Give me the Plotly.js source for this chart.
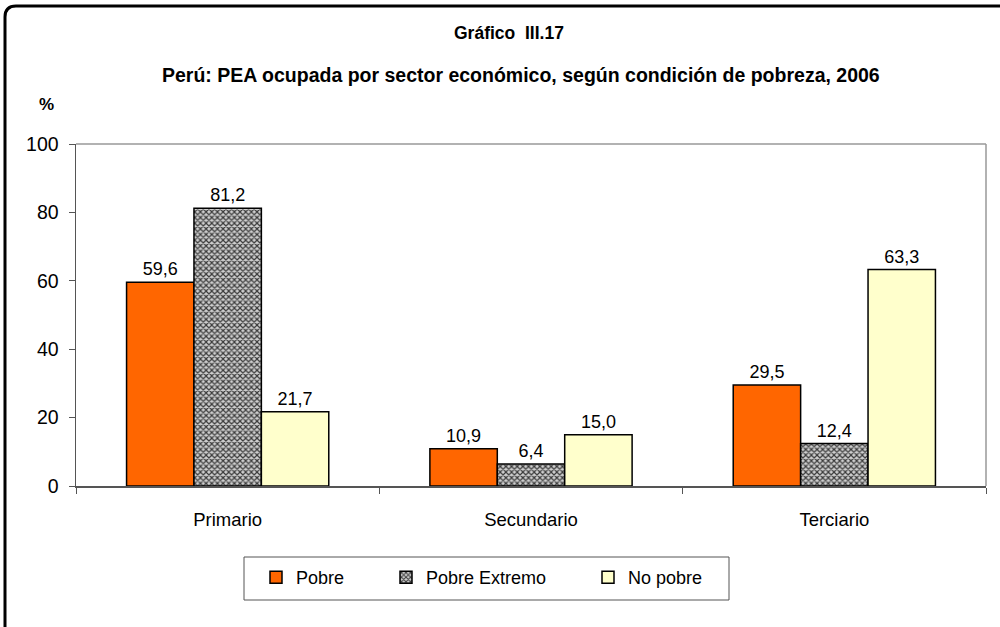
<!DOCTYPE html>
<html>
<head>
<meta charset="utf-8">
<script src="https://cdn.plot.ly/plotly-3.0.1.min.js"></script>
<style>
html,body{margin:0;padding:0;background:#fff;overflow:hidden;}
#chart{width:1000px;height:627px;}
</style>
</head>
<body>
<div id="chart"></div>
<script>
const categories = ["Primario", "Secundario", "Terciario"];
const seriesNames = ["Pobre", "Pobre Extremo", "No pobre"];
const pobre = [59.6, 10.9, 29.5];
const pobreExtremo = [81.2, 6.4, 12.4];
const noPobre = [21.7, 15.0, 63.3];
const yTicks = [0, 20, 40, 60, 80, 100];

const font = "Liberation Sans, Arial, sans-serif";

const L = 76, R = 14, T = 144, B = 141, W = 1000 - L - R, H = 627 - T - B;
function px(x) { return (x - L) / W; }
function py(y) { return (627 - B - y) / H; }

function bar(name, vals, marker, legendId) {
  return {
    type: "bar", name: name, x: categories, y: vals,
    marker: marker, legend: legendId,
    texttemplate: "%{y:.1f}", textposition: "outside",
    textfont: {family: font, size: 18, color: "#000"},
    cliponaxis: false, hoverinfo: "skip"
  };
}

const data = [
  bar(seriesNames[0], pobre, {color: "#FF6600", line: {color: "#000", width: 1.5}}, "legend"),
  bar(seriesNames[1], pobreExtremo, {color: "#8a8a8a", line: {color: "#000", width: 1.5},
    pattern: {shape: "x", fgcolor: "#3a3a3a", bgcolor: "#cfcfcf", size: 4, solidity: 0.5}}, "legend2"),
  bar(seriesNames[2], noPobre, {color: "#FFFFCC", line: {color: "#000", width: 1.5}}, "legend3")
];

const x0 = px(5), x1 = px(1010), y0 = py(6), y1 = py(640);
const rx = 11 / W, ry = 11 / H;
const framePath = `M ${x0},${y1} L ${x0},${y0 - ry} Q ${x0},${y0} ${x0 + rx},${y0} L ${x1},${y0}`;

function leg(xpx) {
  return {
    orientation: "h", x: px(xpx), xanchor: "left", y: py(559), yanchor: "top",
    borderwidth: 0, bgcolor: "rgba(0,0,0,0)",
    font: {family: font, size: 18, color: "#000"}
  };
}

const layout = {
  width: 1000, height: 627,
  margin: {l: L, r: R, t: T, b: B},
  paper_bgcolor: "#fff", plot_bgcolor: "#fff",
  separators: ",.",
  barmode: "group", bargap: 1/3, bargroupgap: 0,
  showlegend: true,
  legend: leg(256),
  legend2: leg(386),
  legend3: leg(588),
  xaxis: {
    type: "category",
    showline: true, linecolor: "#555", linewidth: 1.5, mirror: false,
    ticks: "outside", tickson: "boundaries", ticklen: 6, tickcolor: "#555",
    ticklabelstandoff: 16,
    tickfont: {family: font, size: 18.5, color: "#000"},
    showgrid: false, zeroline: false, fixedrange: true
  },
  yaxis: {
    range: [0, 100], tickvals: yTicks, ticktext: yTicks.map(String),
    showline: true, linecolor: "#555", linewidth: 1.5,
    ticks: "outside", ticklen: 6, tickcolor: "#555",
    ticklabelstandoff: 6,
    tickfont: {family: font, size: 19.5, color: "#000"},
    showgrid: false, zeroline: false, fixedrange: true
  },
  shapes: [
    {type: "line", xref: "paper", yref: "paper", x0: 0, x1: 1, y0: 1, y1: 1, line: {color: "#999", width: 1.5}},
    {type: "line", xref: "paper", yref: "paper", x0: 1, x1: 1, y0: 0, y1: 1, line: {color: "#999", width: 1.5}},
    {type: "rect", xref: "paper", yref: "paper", x0: px(244), x1: px(729), y0: py(557), y1: py(600),
     line: {color: "#555", width: 1}},
    {type: "path", xref: "paper", yref: "paper", path: framePath, line: {color: "#000", width: 3}}
  ],
  annotations: [
    {text: "<b>Gráfico  III.17</b>", xref: "paper", yref: "paper", x: px(509), y: py(33),
     xanchor: "center", yanchor: "middle",
     showarrow: false, font: {family: font, size: 17.5, color: "#000"}},
    {text: "<b>Perú: PEA ocupada por sector económico, según condición de pobreza, 2006</b>", xref: "paper", yref: "paper",
     x: px(521), y: py(75), xanchor: "center", yanchor: "middle",
     showarrow: false, font: {family: font, size: 19.5, color: "#000"}},
    {text: "<b>%</b>", xref: "paper", yref: "paper", x: px(46), y: py(104),
     xanchor: "center", yanchor: "middle",
     showarrow: false, font: {family: font, size: 17, color: "#000"}}
  ]
};

Plotly.newPlot("chart", data, layout, {staticPlot: true, displayModeBar: false});
</script>
</body>
</html>
